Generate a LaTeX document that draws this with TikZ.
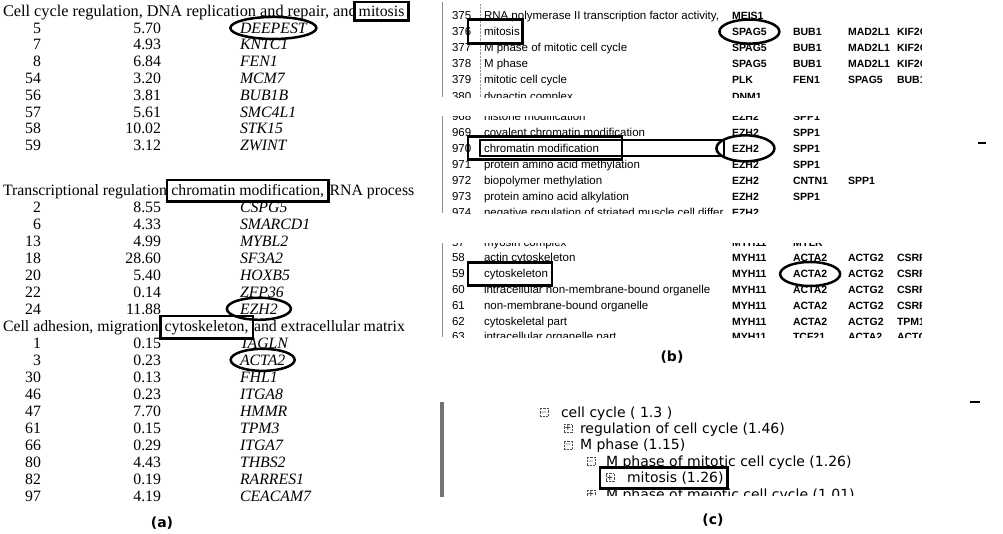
\documentclass[tikz,border=0pt]{standalone}
\usepackage{fontspec}
\setmainfont{Liberation Serif}
\setsansfont{DejaVu Sans}
\newfontfamily\scrfont{Liberation Sans}
\usetikzlibrary{positioning,calc,shapes.geometric}

\begin{document}
\begin{tikzpicture}[x=1pt, y=-1pt,
  every node/.style={inner sep=0pt, outer sep=0pt},
  tabtxt/.style={font=\fontsize{15.8}{17}\selectfont, anchor=base west},
  numtxt/.style={font=\fontsize{15.8}{17}\selectfont, anchor=base east},
  gene/.style={font=\fontsize{15.8}{17}\selectfont\itshape, anchor=base west},
  keybox/.style={draw, line width=2.8pt, fill=white, inner xsep=4.5pt, inner ysep=4pt,
    font=\fontsize{15.8}{17}\selectfont, anchor=base west},
  keyline/.style={draw, line width=2.8pt},
  oval/.style={ellipse, draw, line width=2.5pt, minimum height=22pt},
  bname/.style={font=\fontsize{11.5}{13}\selectfont\scrfont, anchor=base west},
  bgene/.style={font=\fontsize{10.5}{13}\selectfont\scrfont\bfseries, anchor=base west},
  ctxt/.style={font=\fontsize{14}{16}\selectfont\sffamily, anchor=base west},
  tog/.style={draw=black!70, densely dotted, minimum size=8pt, font=\fontsize{8}{8}\selectfont\sffamily},
  panlab/.style={font=\fontsize{14}{16}\selectfont\sffamily\bfseries}
]
  \useasboundingbox (0,0) rectangle (1003,533);

  % (a) table of clusters
  \begin{scope}
    \clip (0,0) rectangle (414,510);
    \node[tabtxt, font=\fontsize{16.3}{17}\selectfont] (h1) at (3,16.5) {Cell cycle regulation, DNA replication and repair, and};
    \node[keybox, base right=-2.5pt of h1] (k1) {mitosis};
    \foreach \num/\val/\gen [count=\i] in {5/5.70/DEEPEST, 7/4.93/KNTC1, 8/6.84/FEN1,
        54/3.20/MCM7, 56/3.81/BUB1B, 57/5.61/SMC4L1, 58/10.02/STK15, 59/3.12/ZWINT}{
      \pgfmathsetmacro\yb{33.1+16.8*(\i-1)}
      \node[numtxt] (an1-\i) at (41,\yb) {\num};
      \node[numtxt] (av1-\i) at (161,\yb) {\val};
      \node[gene] (ag1-\i) at (240,\yb) {\gen};
    }

    \node[tabtxt] (h2) at (3,195.2) {Transcriptional regulation,};
    \node[keybox, base right=-4pt of h2] (k2) {chromatin modification,};
    \node[tabtxt, base right=1pt of k2] (h2c) {RNA processing};
    \foreach \num/\val/\gen [count=\i] in {2/8.55/CSPG5, 6/4.33/SMARCD1, 13/4.99/MYBL2,
        18/28.60/SF3A2, 20/5.40/HOXB5, 22/0.14/ZFP36, 24/11.88/EZH2}{
      \pgfmathsetmacro\yb{212+17*(\i-1)}
      \node[numtxt] (an2-\i) at (41,\yb) {\num};
      \node[numtxt] (av2-\i) at (161,\yb) {\val};
      \node[gene] (ag2-\i) at (240,\yb) {\gen};
    }

    \node[tabtxt] (h3) at (3,331) {Cell adhesion, migration,};
    \node[keybox, base right=-2.5pt of h3] (k3) {cytoskeleton,};
    \node[tabtxt, base right=1pt of k3] (h3c) {and extracellular matrix};
    \foreach \num/\val/\gen [count=\i] in {1/0.15/TAGLN, 3/0.23/ACTA2, 30/0.13/FHL1,
        46/0.23/ITGA8, 47/7.70/HMMR, 61/0.15/TPM3, 66/0.29/ITGA7, 80/4.43/THBS2,
        82/0.19/RARRES1, 97/4.19/CEACAM7}{
      \pgfmathsetmacro\yb{348+17*(\i-1)}
      \node[numtxt] (an3-\i) at (41,\yb) {\num};
      \node[numtxt] (av3-\i) at (161,\yb) {\val};
      \node[gene] (ag3-\i) at (240,\yb) {\gen};
    }

    % circled genes
    \node[oval, minimum width=86pt] (o1) at (ag1-1.center) {};
    \node[oval, minimum width=64pt] (o2) at (ag2-7.center) {};
    \node[oval, minimum width=64pt] (o3) at (ag3-2.center) {};
  \end{scope}
  \node[panlab] (la) at (162,523) {(a)};

  % (b) first strip: mitosis
  \begin{scope}
    \clip (438,0) rectangle (921,97);
    \draw[black!45, line width=.8pt] (442,2) -- (442,97);
    \draw[black!40, densely dotted] (480,4) -- (480,97);
    \foreach \num/\name/\genes [count=\r] in {
        375/{RNA polymerase II transcription factor activity,}/{MEIS1},
        376/mitosis/{SPAG5,BUB1,MAD2L1,KIF2C},
        377/M phase of mitotic cell cycle/{SPAG5,BUB1,MAD2L1,KIF2C},
        378/M phase/{SPAG5,BUB1,MAD2L1,KIF2C},
        379/mitotic cell cycle/{PLK,FEN1,SPAG5,BUB1},
        380/dynactin complex/{DNM1}}{
      \pgfmathsetmacro\yb{19+16.2*(\r-1)}
      \node[bname] (bn1-\r) at (452,\yb) {\num};
      \node[bname] (bt1-\r) at (484,\yb) {\name};
      \foreach \g [count=\j] in \genes {
        \pgfmathsetmacro\xg{{732,793,848,897}[\j-1]}
        \node[bgene] (bg1-\r-\j) at (\xg,\yb) {\g};
      }
    }
    \draw[keyline] ($(bt1-2.base west)+(-16,-16)$) rectangle ($(bt1-2.base east)+(3,8)$);
    \node[oval, minimum width=60pt, minimum height=24pt] (o4) at (bg1-2-1.center) {};
  \end{scope}

  % (b) second strip: chromatin modification
  \begin{scope}
    \clip (438,116) rectangle (921,213);
    \draw[black!45, line width=.8pt] (442,116) -- (442,213);
    \foreach \num/\name/\genes [count=\r] in {
        968/histone modification/{EZH2,SPP1},
        969/covalent chromatin modification/{EZH2,SPP1},
        970/chromatin modification/{EZH2,SPP1},
        971/protein amino acid methylation/{EZH2,SPP1},
        972/biopolymer methylation/{EZH2,CNTN1,SPP1},
        973/protein amino acid alkylation/{EZH2,SPP1},
        974/negative regulation of striated muscle cell differ/{EZH2}}{
      \pgfmathsetmacro\yb{120+16*(\r-1)}
      \node[bname] (bn2-\r) at (452,\yb) {\num};
      \node[bname] (bt2-\r) at (484,\yb) {\name};
      \foreach \g [count=\j] in \genes {
        \pgfmathsetmacro\xg{{732,793,848,897}[\j-1]}
        \node[bgene] (bg2-\r-\j) at (\xg,\yb) {\g};
      }
    }
    \draw[line width=1.2pt] ($(bt2-3.base west)+(-4,-12)$) rectangle ($(bg2-3-1.base west)+(-8,4)$);
    \draw[keyline] ($(bt2-3.base west)+(-16,-15.5)$) rectangle ($(bt2-3.base west)+(138,7.5)$);
    \node[oval, minimum width=58pt, minimum height=26pt] (o5) at (bg2-3-1.center) {};
  \end{scope}
  \draw[line width=1.2pt] (978,143) -- (986,143);

  % (b) third strip: cytoskeleton
  \begin{scope}
    \clip (438,243) rectangle (921,337);
    \draw[black!45, line width=.8pt] (442,243) -- (442,337);
    \foreach \num/\name/\genes [count=\r] in {
        57/myosin complex/{MYH11,MYLK},
        58/actin cytoskeleton/{MYH11,ACTA2,ACTG2,CSRP1},
        59/cytoskeleton/{MYH11,ACTA2,ACTG2,CSRP1},
        60/intracellular non-membrane-bound organelle/{MYH11,ACTA2,ACTG2,CSRP1},
        61/non-membrane-bound organelle/{MYH11,ACTA2,ACTG2,CSRP1},
        62/cytoskeletal part/{MYH11,ACTA2,ACTG2,TPM1},
        63/intracellular organelle part/{MYH11,TCF21,ACTA2,ACTG2}}{
      \pgfmathsetmacro\yb{246+15.8*(\r-1)}
      \node[bname] (bn3-\r) at (452,\yb) {\num};
      \node[bname] (bt3-\r) at (484,\yb) {\name};
      \foreach \g [count=\j] in \genes {
        \pgfmathsetmacro\xg{{732,793,848,897}[\j-1]}
        \node[bgene] (bg3-\r-\j) at (\xg,\yb) {\g};
      }
    }
    \draw[keyline] ($(bt3-3.base west)+(-16,-15.5)$) rectangle ($(bt3-3.base east)+(4,7.5)$);
    \node[oval, minimum width=60pt, minimum height=24pt] (o6) at (bg3-3-2.center) {};
  \end{scope}
  \node[panlab] (lb) at (672,357) {(b)};

  % (c) GO tree
  \fill[black!55] (440,402) rectangle (444,497);
  \begin{scope}
    \clip (430,395) rectangle (1003,495);
    \foreach \lx/\tx/\sg/\txt [count=\r] in {
        544/561/$-$/{cell cycle ( 1.3 )},
        568/580/+/{regulation of cell cycle (1.46)},
        568/580/$-$/{M phase (1.15)},
        591/606/$-$/{M phase of mitotic cell cycle (1.26)},
        610/627/+/{mitosis (1.26)},
        591/606/+/{M phase of meiotic cell cycle (1.01)}}{
      \pgfmathsetmacro\yb{417+16.4*(\r-1)}
      \node[tog] (ct\r) at (\lx,\yb-5) {\sg};
      \node[ctxt] (cx\r) at (\tx,\yb) {\txt};
    }
    \draw[keyline] ($(ct5.center)+(-10,-10.5)$) rectangle ($(cx5.base east)+(4,5.5)$);
  \end{scope}
  \draw[line width=1.2pt] (970,402) -- (980,402);
  \node[panlab] (lc) at (713,520) {(c)};
\end{tikzpicture}
\end{document}
